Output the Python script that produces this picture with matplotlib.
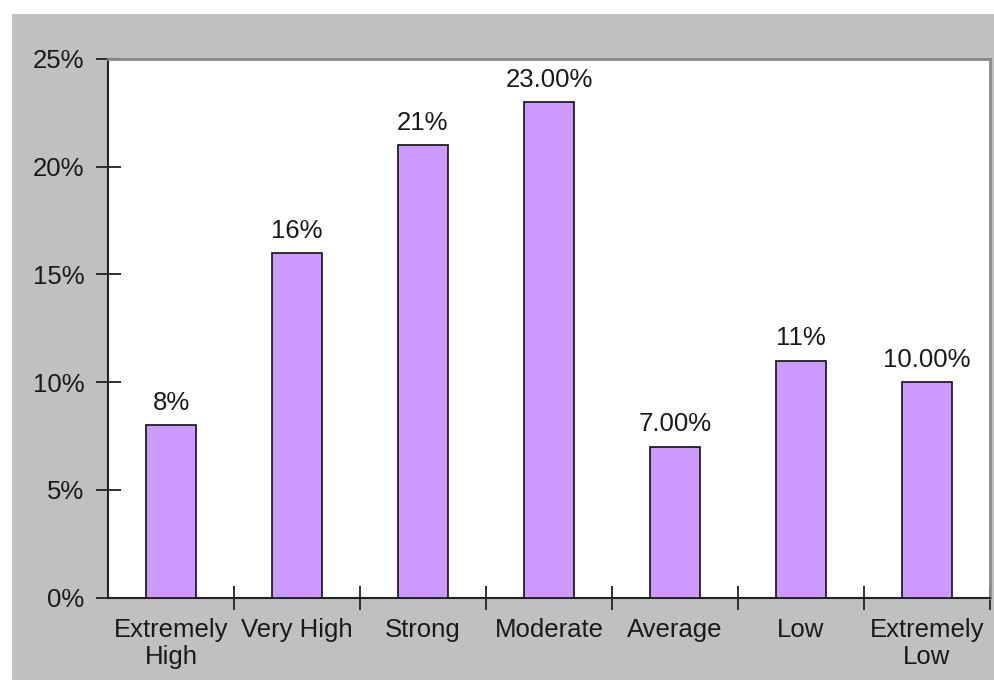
import matplotlib
matplotlib.use("Agg")
import matplotlib.pyplot as plt
from matplotlib.patches import Rectangle
from matplotlib.ticker import FixedLocator, FuncFormatter

categories = ["Extremely\nHigh", "Very High", "Strong", "Moderate", "Average", "Low", "Extremely\nLow"]
values = [8, 16, 21, 23, 7, 11, 10]
value_labels = ["8%", "16%", "21%", "23.00%", "7.00%", "11%", "10.00%"]
y_ticks = [0, 5, 10, 15, 20, 25]

plt.rcParams["font.family"] = ["Liberation Sans", "DejaVu Sans"]
FS = 18.5

fig = plt.figure(figsize=(9.94, 6.80), dpi=100, facecolor="white")
# grey chart area behind the plot
fig.patches.append(Rectangle((12 / 994, 0), 1 - 12 / 994, 1 - 14 / 680,
                             transform=fig.transFigure, facecolor="#c0c0c0",
                             edgecolor="none", zorder=-10))

ax = fig.add_axes([108 / 994, (680 - 597.5) / 680, (990 - 108) / 994, (597.5 - 59) / 680])
ax.set_facecolor("white")

x = list(range(len(categories)))
ax.bar(x, values, width=0.4, color="#cc99ff", edgecolor="#111111", linewidth=1.2, zorder=3)

for xi, v, lab in zip(x, values, value_labels):
    ax.annotate(lab, (xi, v), xytext=(0, 11), textcoords="offset points",
                ha="center", va="baseline", fontsize=FS, color="#1a1a1a")

ax.set_xlim(-0.5, len(categories) - 0.5)
ax.set_ylim(0, 25)

ax.yaxis.set_major_locator(FixedLocator(y_ticks))
ax.yaxis.set_major_formatter(FuncFormatter(lambda v, p: f"{v:.0f}%"))

# category ticks sit on the boundaries between bars
ax.set_xticks([i + 0.5 for i in x[:-1]] + [len(categories) - 0.5], minor=False)
ax.set_xticklabels([])
ax.set_xticks(x, minor=True)
ax.set_xticklabels(categories, minor=True, fontsize=FS, color="#1a1a1a", linespacing=1.12)
ax.tick_params(axis="x", which="minor", length=0, pad=15)
ax.tick_params(axis="x", which="major", direction="inout", length=17, width=1.3, color="#222222")
ax.tick_params(axis="y", direction="inout", length=18, width=1.3, color="#222222",
               labelsize=FS, labelcolor="#1a1a1a", pad=8)

for side in ("left", "bottom"):
    ax.spines[side].set_color("#222222")
    ax.spines[side].set_linewidth(1.5)
for side in ("top", "right"):
    ax.spines[side].set_color("#8a8a8a")
    ax.spines[side].set_linewidth(2.0)

fig.savefig("out.png", dpi=100, facecolor=fig.get_facecolor())
